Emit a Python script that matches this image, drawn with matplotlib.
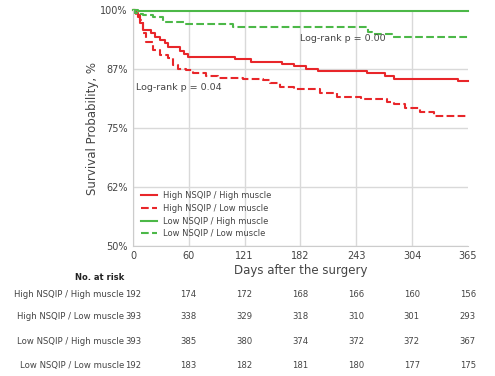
import numpy as np
import matplotlib.pyplot as plt
import matplotlib.transforms as mtransforms

groups = ["High NSQIP / High muscle", "High NSQIP / Low muscle",
          "Low NSQIP / High muscle", "Low NSQIP / Low muscle"]

# step survival curves (days, survival probability)
hh_t = [0, 2, 5, 8, 11, 20, 24, 29, 35, 38, 51, 56, 60, 111, 129, 162, 175, 189, 202, 255, 275, 285, 354, 365]
hh_s = [1.0, 0.993, 0.985, 0.972, 0.958, 0.951, 0.944, 0.936, 0.931, 0.922, 0.914, 0.908, 0.901,
        0.896, 0.890, 0.886, 0.881, 0.876, 0.871, 0.866, 0.860, 0.854, 0.850, 0.850]

hl_t = [0, 3, 7, 11, 14, 22, 29, 38, 44, 49, 58, 65, 80, 93, 120, 142, 149, 160, 175, 204, 222,
        248, 277, 285, 297, 313, 328, 365]
hl_s = [1.0, 0.99, 0.979, 0.951, 0.933, 0.915, 0.905, 0.898, 0.883, 0.876, 0.873, 0.866, 0.860,
        0.857, 0.853, 0.852, 0.845, 0.838, 0.832, 0.824, 0.815, 0.811, 0.806, 0.802, 0.792, 0.785,
        0.775, 0.775]

lh_t = [0, 5, 365]
lh_s = [1.0, 0.998, 0.998]

ll_t = [0, 2, 5, 11, 22, 33, 56, 109, 256, 260, 282, 365]
ll_s = [1.0, 0.994, 0.992, 0.989, 0.986, 0.975, 0.970, 0.965, 0.954, 0.949, 0.944, 0.944]

risk_days = [0, 60, 121, 182, 243, 304, 365]
risk_hh = [192, 174, 172, 168, 166, 160, 156]
risk_hl = [393, 338, 329, 318, 310, 301, 293]
risk_lh = [393, 385, 380, 374, 372, 372, 367]
risk_ll = [192, 183, 182, 181, 180, 177, 175]

red = "#e8262a"
green = "#4cb848"
grey_txt = "#444444"

fig = plt.figure(figsize=(4.95, 3.76), dpi=100)
ax = fig.add_axes([0.269, 0.346, 0.676, 0.627])

ax.step(hh_t, hh_s, where="post", color=red, lw=1.5, label=groups[0], clip_on=False)
ax.step(hl_t, hl_s, where="post", color=red, lw=1.5, ls="--", label=groups[1], clip_on=False)
ax.step(lh_t, lh_s, where="post", color=green, lw=1.5, label=groups[2], clip_on=False)
ax.step(ll_t, ll_s, where="post", color=green, lw=1.5, ls="--", label=groups[3], clip_on=False)

ax.set_xlim(0, 365)
ax.set_ylim(0.5, 1.0)
xt = np.linspace(0, 365, 7)
ax.set_xticks(xt)
ax.set_xticklabels([str(int(v)) for v in xt])
yt = np.linspace(0.5, 1.0, 5)
ax.set_yticks(yt)
ax.set_yticklabels(["%d%%" % int(v * 100) for v in yt])
ax.grid(True, color="#d9d9d9", lw=1)
ax.xaxis.get_gridlines()[-1].set_visible(False)
ax.set_axisbelow(True)
ax.spines["top"].set_visible(False)
ax.spines["right"].set_visible(False)
for sp in ["left", "bottom"]:
    ax.spines[sp].set_color("#cccccc")
ax.tick_params(length=0, labelsize=7, colors=grey_txt, pad=4)

ax.set_ylabel("Survival Probability, %", fontsize=8.5, color=grey_txt, labelpad=1)
ax.set_xlabel("Days after the surgery", fontsize=8.5, color=grey_txt, labelpad=2)

ax.text(182, 0.939, "Log-rank p = 0.00", fontsize=6.8, color=grey_txt, va="center")
ax.text(3, 0.837, "Log-rank p = 0.04", fontsize=6.8, color=grey_txt, va="center")

ax.legend(loc="lower left", frameon=False, fontsize=6.0, handlelength=2.0,
          handletextpad=0.7, labelcolor=grey_txt, bbox_to_anchor=(0.0, 0.0),
          labelspacing=0.45)

# number at risk table
fig.text(0.202, 0.263, "No. at risk", fontsize=6.0, fontweight="bold", ha="center",
         va="center", color="#222222")
trans = mtransforms.blended_transform_factory(ax.transData, fig.transFigure)
rows_y = [0.218, 0.157, 0.093, 0.029]
for name, counts, yy in zip(groups, [risk_hh, risk_hl, risk_lh, risk_ll], rows_y):
    fig.text(0.251, yy, name, fontsize=6.1, ha="right", va="center", color=grey_txt)
    for d, n in zip(risk_days, counts):
        ax.text(d, yy, str(n), transform=trans, fontsize=6.1, ha="center",
                va="center", color=grey_txt, clip_on=False)

fig.savefig("out.png", dpi=100)
